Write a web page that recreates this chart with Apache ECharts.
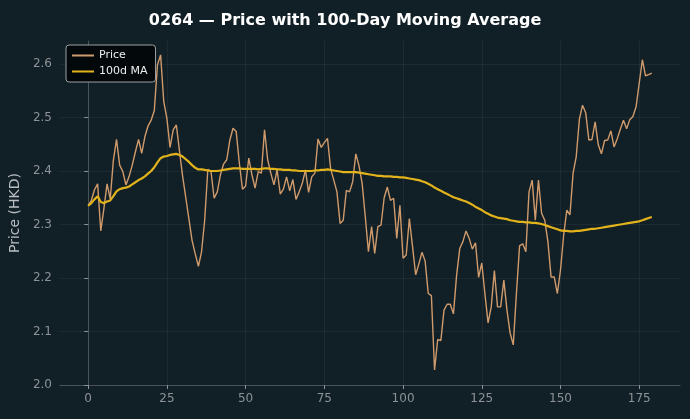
<!DOCTYPE html>
<html>
<head>
<meta charset="utf-8">
<script src="https://cdn.jsdelivr.net/npm/echarts@6/dist/echarts.min.js"></script>
<style>
  html, body { margin: 0; padding: 0; background: #111f26; }
  #chart { width: 690px; height: 419px; }
</style>
</head>
<body>
<div id="chart"></div>
<script>
// daily closing price (day 0..179)
var price = [
    2.335, 2.345, 2.365, 2.376, 2.288, 2.330, 2.376, 2.348, 2.420, 2.459,
    2.411, 2.399, 2.374, 2.390, 2.411, 2.436, 2.459, 2.433, 2.464, 2.484,
    2.495, 2.513, 2.598, 2.617, 2.530, 2.498, 2.444, 2.477, 2.486, 2.437,
    2.390, 2.350, 2.310, 2.270, 2.245, 2.222, 2.249, 2.308, 2.403, 2.399,
    2.349, 2.361, 2.393, 2.413, 2.421, 2.458, 2.480, 2.474, 2.415, 2.366,
    2.372, 2.424, 2.393, 2.368, 2.399, 2.396, 2.477, 2.421, 2.396, 2.374,
    2.402, 2.357, 2.366, 2.389, 2.363, 2.384, 2.347, 2.361, 2.377, 2.402,
    2.360, 2.389, 2.396, 2.460, 2.444, 2.453, 2.461, 2.404, 2.383, 2.361,
    2.302, 2.308, 2.364, 2.361, 2.380, 2.432, 2.410, 2.377, 2.315, 2.249,
    2.296, 2.246, 2.296, 2.299, 2.350, 2.370, 2.345, 2.349, 2.274, 2.336,
    2.237, 2.243, 2.311, 2.259, 2.206, 2.226, 2.248, 2.232, 2.171, 2.167,
    2.028, 2.085, 2.083, 2.140, 2.151, 2.151, 2.133, 2.205, 2.255, 2.268,
    2.288, 2.274, 2.254, 2.266, 2.201, 2.228, 2.170, 2.116, 2.146, 2.214,
    2.146, 2.146, 2.196, 2.140, 2.097, 2.075, 2.171, 2.260, 2.264, 2.249,
    2.361, 2.383, 2.308, 2.383, 2.321, 2.308, 2.268, 2.202, 2.202, 2.171,
    2.215, 2.280, 2.327, 2.318, 2.396, 2.427, 2.497, 2.523, 2.509, 2.458,
    2.459, 2.492, 2.449, 2.432, 2.457, 2.458, 2.475, 2.445, 2.460, 2.478,
    2.495, 2.479, 2.496, 2.502, 2.520, 2.564, 2.608, 2.578, 2.580, 2.583
];

// 100-day moving average, also
var ma100 = [
    2.335, 2.340, 2.347, 2.353, 2.342, 2.340, 2.343, 2.345, 2.353, 2.362,
    2.366, 2.368, 2.369, 2.371, 2.375, 2.379, 2.383, 2.386, 2.390, 2.395,
    2.400, 2.407, 2.416, 2.424, 2.427, 2.428, 2.430, 2.431, 2.432, 2.430,
    2.427, 2.422, 2.417, 2.411, 2.406, 2.403, 2.403, 2.402, 2.401, 2.400,
    2.400, 2.400, 2.401, 2.402, 2.403, 2.404, 2.405, 2.405, 2.405, 2.404,
    2.404, 2.404, 2.404, 2.404, 2.403, 2.404, 2.405, 2.405, 2.404, 2.404,
    2.403, 2.403, 2.402, 2.402, 2.402, 2.401, 2.401, 2.400, 2.400, 2.400,
    2.400, 2.400, 2.401, 2.401, 2.402, 2.402, 2.403, 2.402, 2.401, 2.400,
    2.399, 2.398, 2.398, 2.398, 2.398, 2.398, 2.397, 2.396, 2.395, 2.394,
    2.393, 2.392, 2.391, 2.391, 2.390, 2.390, 2.390, 2.389, 2.389, 2.388,
    2.388, 2.387, 2.386, 2.385, 2.384, 2.383, 2.381, 2.379, 2.376, 2.373,
    2.369, 2.366, 2.363, 2.360, 2.357, 2.354, 2.351, 2.349, 2.347, 2.345,
    2.343, 2.340, 2.337, 2.333, 2.330, 2.327, 2.323, 2.320, 2.317, 2.315,
    2.313, 2.312, 2.311, 2.310, 2.308, 2.307, 2.306, 2.305, 2.305, 2.304,
    2.304, 2.303, 2.303, 2.302, 2.301, 2.299, 2.297, 2.295, 2.293, 2.291,
    2.289, 2.288, 2.288, 2.287, 2.287, 2.288, 2.288, 2.289, 2.290, 2.291,
    2.292, 2.292, 2.293, 2.294, 2.295, 2.296, 2.297, 2.298, 2.299, 2.300,
    2.301, 2.302, 2.303, 2.304, 2.305, 2.306, 2.308, 2.310, 2.312, 2.314
];

var xTicks = [0, 25, 50, 75, 100, 125, 150, 175];
var yTicks = [2.0, 2.1, 2.2, 2.3, 2.4, 2.5, 2.6];

var axisColor = '#4a5358';
var gridColor = 'rgba(255,255,255,0.05)';
var labelColor = '#8c9396';
var font = 'DejaVu Sans';

var chart = echarts.init(document.getElementById('chart'));

function pairs(arr) {
    return arr.map(function (v, i) { return [i, v]; });
}

var option = {
    backgroundColor: '#111f26',
    animation: false,
    textStyle: { fontFamily: font },
    title: {
        text: '0264 \u2014 Price with 100-Day Moving Average',
        left: 'center',
        top: 8,
        textStyle: { color: '#ffffff', fontSize: 16, fontWeight: 'bold', fontFamily: font }
    },
    legend: {
        orient: 'vertical',
        left: 66,
        top: 45,
        padding: [5, 8, 5, 6],
        itemGap: 5,
        itemWidth: 22,
        itemHeight: 2,
        backgroundColor: '#03080a',
        borderColor: '#9aa0a3',
        borderWidth: 1,
        borderRadius: 3,
        textStyle: { color: '#eeeeee', fontSize: 11, fontFamily: font },
        data: [
            { name: 'Price', icon: 'rect' },
            { name: '100d MA', icon: 'rect' }
        ]
    },
    grid: { left: 60, top: 41, width: 620, height: 344 },
    xAxis: {
        type: 'value',
        min: -8.95,
        max: 187.95,
        axisLine: { lineStyle: { color: axisColor } },
        axisTick: { show: true, length: 4, lineStyle: { color: labelColor }, customValues: xTicks },
        axisLabel: { color: labelColor, fontSize: 12, margin: 8, customValues: xTicks },
        splitLine: { show: true, lineStyle: { color: gridColor } }
    },
    yAxis: {
        type: 'value',
        min: 2.0,
        max: 2.643,
        name: 'Price (HKD)',
        nameLocation: 'middle',
        nameGap: 36,
        nameTextStyle: { color: '#b8bec1', fontSize: 14, fontFamily: font },
        axisLine: { show: true, lineStyle: { color: axisColor } },
        axisTick: { show: true, length: 4, lineStyle: { color: labelColor }, customValues: yTicks },
        axisLabel: {
            color: labelColor, fontSize: 12, margin: 8, customValues: yTicks,
            formatter: function (v) { return v.toFixed(1); }
        },
        splitLine: { show: true, lineStyle: { color: gridColor } }
    },
    series: [
        {
            name: 'Price',
            type: 'line',
            data: pairs(price),
            showSymbol: false,
            itemStyle: { color: '#d09b6c' },
            lineStyle: { color: '#d09b6c', width: 1.4 },
            z: 2
        },
        {
            name: '100d MA',
            type: 'line',
            data: pairs(ma100),
            showSymbol: false,
            itemStyle: { color: '#e2b31b' },
            lineStyle: { color: '#e2b31b', width: 2.2 },
            z: 3
        }
    ]
};

chart.setOption(option);
</script>
</body>
</html>
